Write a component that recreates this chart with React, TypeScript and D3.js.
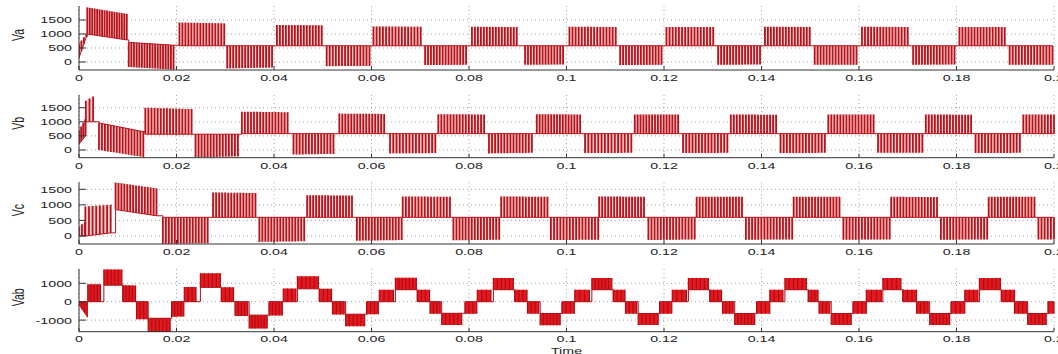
import * as d3 from 'd3';

// one switching block of the PWM trace:
// [t start, t end, base at start, base at end, tip at start, tip at end, pulse count]
type Block = [number, number, number, number, number, number, number];

const timeTicks = [0, 0.02, 0.04, 0.06, 0.08, 0.1, 0.12, 0.14, 0.16, 0.18, 0.2];
const timeTickLabels = ['0', '0.02', '0.04', '0.06', '0.08', '0.1', '0.12', '0.14', '0.16', '0.18', '0.2'];
const phaseTicks = [0, 500, 1000, 1500];
const lineTicks = [-1000, 0, 1000];

const vaBlocks: Block[] = [
    [0.0000, 0.0015, 150, 900, 650, 1000, 4],
    [0.0017, 0.0098, 1000, 790, 1950, 1720, 17],
    [0.0102, 0.0194, 700, 600, -180, -270, 18],
    [0.0206, 0.0298, 580, 580, 1410, 1380, 16],
    [0.0304, 0.0396, 580, 580, -230, -200, 16],
    [0.0406, 0.0498, 580, 580, 1320, 1310, 16],
    [0.0508, 0.0596, 580, 580, -150, -140, 15],
    [0.0604, 0.0701, 580, 580, 1270, 1260, 16],
    [0.0710, 0.0794, 580, 580, -110, -100, 15],
    [0.0806, 0.0898, 580, 580, 1260, 1250, 16],
    [0.0915, 0.0993, 580, 580, -100, -90, 14],
    [0.1006, 0.1101, 580, 580, 1260, 1250, 16],
    [0.1110, 0.1195, 580, 580, -110, -100, 15],
    [0.1205, 0.1301, 580, 580, 1250, 1250, 16],
    [0.1311, 0.1397, 580, 580, -100, -90, 15],
    [0.1407, 0.1499, 580, 580, 1260, 1250, 16],
    [0.1509, 0.1595, 580, 580, -100, -100, 15],
    [0.1606, 0.1700, 580, 580, 1260, 1250, 16],
    [0.1711, 0.1796, 580, 580, -100, -90, 15],
    [0.1806, 0.1899, 580, 580, 1250, 1250, 16],
    [0.1909, 0.1997, 580, 580, -100, -100, 15],
];

const vbBlocks: Block[] = [
    [0.0000, 0.0013, 200, 500, 700, 1100, 4],
    [0.0014, 0.0029, 1000, 1000, 1750, 1900, 3],
    [0.0041, 0.0132, 960, 650, 0, -250, 16],
    [0.0136, 0.0231, 560, 560, 1500, 1450, 16],
    [0.0239, 0.0326, 560, 560, -260, -230, 15],
    [0.0334, 0.0428, 580, 580, 1360, 1340, 16],
    [0.0440, 0.0522, 580, 580, -160, -140, 14],
    [0.0534, 0.0626, 580, 580, 1290, 1280, 16],
    [0.0638, 0.0731, 580, 580, -120, -110, 15],
    [0.0737, 0.0831, 580, 580, 1270, 1260, 16],
    [0.0841, 0.0929, 580, 580, -120, -100, 15],
    [0.0939, 0.1028, 580, 580, 1270, 1260, 16],
    [0.1038, 0.1133, 580, 580, -110, -100, 15],
    [0.1140, 0.1229, 580, 580, 1260, 1260, 16],
    [0.1239, 0.1330, 580, 580, -110, -100, 15],
    [0.1337, 0.1430, 580, 580, 1260, 1250, 16],
    [0.1439, 0.1530, 580, 580, -110, -100, 15],
    [0.1537, 0.1630, 580, 580, 1260, 1260, 16],
    [0.1639, 0.1730, 580, 580, -100, -100, 15],
    [0.1737, 0.1830, 580, 580, 1260, 1250, 16],
    [0.1839, 0.1930, 580, 580, -110, -100, 15],
    [0.1937, 0.2000, 580, 580, 1260, 1260, 11],
];

const vcBlocks: Block[] = [
    [0.0000, 0.0012, 0, 0, 300, 450, 3],
    [0.0013, 0.0065, 0, 100, 950, 1000, 8],
    [0.0075, 0.0159, 850, 650, 1720, 1530, 15],
    [0.0172, 0.0264, 600, 600, -250, -230, 16],
    [0.0275, 0.0362, 600, 600, 1400, 1380, 15],
    [0.0370, 0.0462, 600, 600, -190, -170, 16],
    [0.0468, 0.0560, 600, 600, 1310, 1300, 16],
    [0.0570, 0.0662, 600, 600, -150, -130, 16],
    [0.0664, 0.0761, 600, 600, 1270, 1260, 16],
    [0.0768, 0.0862, 600, 600, -140, -120, 16],
    [0.0866, 0.0961, 600, 600, 1270, 1260, 16],
    [0.0968, 0.1065, 600, 600, -130, -120, 16],
    [0.1067, 0.1159, 600, 600, 1270, 1260, 16],
    [0.1168, 0.1263, 600, 600, -130, -110, 16],
    [0.1267, 0.1360, 600, 600, 1260, 1260, 16],
    [0.1368, 0.1463, 600, 600, -120, -110, 16],
    [0.1466, 0.1560, 600, 600, 1260, 1260, 16],
    [0.1568, 0.1663, 600, 600, -120, -110, 16],
    [0.1666, 0.1760, 600, 600, 1260, 1250, 16],
    [0.1768, 0.1863, 600, 600, -120, -110, 16],
    [0.1866, 0.1960, 600, 600, 1260, 1260, 16],
    [0.1968, 0.2000, 600, 600, -110, -110, 6],
];

const vabBlocks: Block[] = [
    [0.0000, 0.0017, 0, 0, -200, -850, 4],
    [0.0018, 0.0044, 0, 0, 950, 950, 5],
    [0.0051, 0.0088, 900, 900, 1750, 1750, 6],
    [0.0090, 0.0116, 0, 0, 900, 880, 5],
    [0.0118, 0.0140, 0, 0, -950, -950, 4],
    [0.0142, 0.0187, -900, -900, -1650, -1650, 7],
    [0.0190, 0.0215, 0, 0, -820, -800, 5],
    [0.0216, 0.0240, 0, 0, 800, 800, 4],
    [0.0249, 0.0290, 780, 780, 1540, 1540, 6],
    [0.0292, 0.0317, 0, 0, 780, 780, 4],
    [0.0320, 0.0346, 0, 0, -780, -780, 5],
    [0.0349, 0.0386, -730, -730, -1450, -1450, 7],
    [0.0390, 0.0417, 0, 0, -750, -750, 5],
    [0.0419, 0.0445, 0, 0, 720, 720, 4],
    [0.0448, 0.0491, 700, 700, 1380, 1380, 6],
    [0.0493, 0.0518, 0, 0, 700, 700, 4],
    [0.0520, 0.0544, 0, 0, -700, -700, 4],
    [0.0547, 0.0586, -680, -680, -1330, -1330, 6],
    [0.0590, 0.0614, 0, 0, -680, -680, 4],
    [0.0616, 0.0645, 0, 0, 650, 650, 4],
    [0.0649, 0.0692, 650, 650, 1300, 1300, 7],
    [0.0694, 0.0719, 0, 0, 650, 650, 4],
    [0.0720, 0.0741, 0, 0, -650, -650, 4],
    [0.0744, 0.0785, -630, -630, -1270, -1270, 6],
    [0.0792, 0.0816, 0, 0, -650, -650, 4],
    [0.0817, 0.0845, 0, 0, 650, 650, 4],
    [0.0850, 0.0891, 650, 650, 1290, 1290, 6],
    [0.0894, 0.0919, 0, 0, 650, 650, 4],
    [0.0920, 0.0943, 0, 0, -650, -650, 4],
    [0.0946, 0.0987, -640, -640, -1280, -1280, 7],
    [0.0991, 0.1016, 0, 0, -650, -650, 4],
    [0.1017, 0.1047, 0, 0, 650, 650, 4],
    [0.1052, 0.1093, 650, 650, 1290, 1290, 7],
    [0.1096, 0.1120, 0, 0, 650, 650, 4],
    [0.1121, 0.1144, 0, 0, -650, -650, 4],
    [0.1147, 0.1188, -640, -640, -1270, -1270, 6],
    [0.1191, 0.1216, 0, 0, -650, -650, 4],
    [0.1217, 0.1246, 0, 0, 650, 650, 4],
    [0.1250, 0.1291, 650, 650, 1290, 1290, 6],
    [0.1294, 0.1318, 0, 0, 650, 650, 4],
    [0.1320, 0.1342, 0, 0, -650, -650, 4],
    [0.1345, 0.1386, -640, -640, -1270, -1270, 7],
    [0.1390, 0.1417, 0, 0, -650, -650, 4],
    [0.1417, 0.1444, 0, 0, 650, 650, 4],
    [0.1448, 0.1492, 650, 650, 1290, 1290, 6],
    [0.1496, 0.1516, 0, 0, 650, 650, 4],
    [0.1518, 0.1540, 0, 0, -650, -650, 4],
    [0.1543, 0.1584, -640, -640, -1270, -1270, 6],
    [0.1588, 0.1615, 0, 0, -650, -650, 4],
    [0.1615, 0.1646, 0, 0, 650, 650, 4],
    [0.1649, 0.1686, 650, 650, 1290, 1290, 5],
    [0.1690, 0.1718, 0, 0, 650, 650, 4],
    [0.1718, 0.1742, 0, 0, -650, -650, 4],
    [0.1745, 0.1786, -640, -640, -1270, -1270, 7],
    [0.1789, 0.1817, 0, 0, -650, -650, 4],
    [0.1817, 0.1844, 0, 0, 650, 650, 4],
    [0.1847, 0.1890, 650, 650, 1290, 1290, 6],
    [0.1892, 0.1919, 0, 0, 650, 650, 4],
    [0.1919, 0.1944, 0, 0, -650, -650, 4],
    [0.1946, 0.1984, -640, -640, -1270, -1270, 6],
    [0.1988, 0.2000, 0, 0, -650, -650, 2],
];

const W = 1058;
const H = 354;
const left = 79;
const right = 1054;
const sx = 1.5; // the picture is stretched sideways, text too
const font = 'Liberation Sans, Arial, Helvetica, sans-serif';

const panels = [
    { key: 'va', label: 'Va', blocks: vaBlocks, ticks: phaseTicks, domain: [-286, 2000], top: 6, bottom: 70, dense: false },
    { key: 'vb', label: 'Vb', blocks: vbBlocks, ticks: phaseTicks, domain: [-273, 1950], top: 95, bottom: 157.7, dense: false },
    { key: 'vc', label: 'Vc', blocks: vcBlocks, ticks: phaseTicks, domain: [-257, 1725], top: 182.3, bottom: 244, dense: false },
    { key: 'vab', label: 'Vab', blocks: vabBlocks, ticks: lineTicks, domain: [-1630, 1777], top: 269, bottom: 331.7, dense: true },
];

const x = d3.scaleLinear().domain([0, 0.2]).range([left, right]);

function Panel({ p }: { p: typeof panels[number] }) {
    const y = d3.scaleLinear().domain(p.domain).range([p.bottom, p.top]);
    const lineColor = p.dense ? '#b00c14' : '#b8121b';
    const bandColor = p.dense ? '#e3191f' : '#f5d2d2';

    // trace through the base of each block
    const pts: [number, number][] = [];
    p.blocks.forEach((b, i) => {
        if (i > 0) {
            const prev = p.blocks[i - 1];
            pts.push([b[0], prev[3]]);
        }
        pts.push([b[0], b[2]]);
        pts.push([b[1], b[3]]);
    });
    const trace = d3.line<[number, number]>().x(d => x(d[0])).y(d => y(d[1]))(pts) as string;

    const pulses: { t: number; b: number; tip: number }[] = [];
    p.blocks.forEach(b => {
        const n = b[6];
        for (let i = 0; i < n; i++) {
            const f = n > 1 ? i / (n - 1) : 0;
            pulses.push({
                t: b[0] + f * (b[1] - b[0]),
                b: b[2] + f * (b[3] - b[2]),
                tip: b[4] + f * (b[5] - b[4]),
            });
        }
    });

    const clipId = `clip-${p.key}`;
    return (
        <g>
            <defs>
                <clipPath id={clipId}>
                    <rect x={left} y={p.top - 1} width={right - left + 2} height={p.bottom - p.top + 2} />
                </clipPath>
            </defs>
            {/* grid */}
            {timeTicks.map(t => (
                <line key={'gx' + t} x1={x(t)} x2={x(t)} y1={p.top} y2={p.bottom}
                    stroke="#8a8a8a" strokeWidth={0.8} strokeDasharray="1,3" />
            ))}
            {p.ticks.map(v => (
                <line key={'gy' + v} x1={left} x2={right} y1={y(v)} y2={y(v)}
                    stroke="#8a8a8a" strokeWidth={0.8} strokeDasharray="1,3" />
            ))}
            <g clipPath={`url(#${clipId})`}>
                {p.blocks.map((b, i) => (
                    <polygon key={'band' + i} fill={bandColor}
                        points={[
                            [x(b[0]), y(b[2])], [x(b[1]), y(b[3])],
                            [x(b[1]), y(b[5])], [x(b[0]), y(b[4])],
                        ].map(q => q.join(',')).join(' ')} />
                ))}
                <path d={trace} fill="none" stroke={lineColor} strokeWidth={1} />
                {pulses.map((q, i) => (
                    <line key={'p' + i} x1={x(q.t)} x2={x(q.t)} y1={y(q.b)} y2={y(q.tip)}
                        stroke={lineColor} strokeWidth={p.dense ? 1.2 : 1.8} />
                ))}
            </g>
            {/* axes */}
            <line x1={left} x2={left} y1={p.top} y2={p.bottom} stroke="#333" strokeWidth={1} />
            <line x1={left} x2={right} y1={p.bottom} y2={p.bottom} stroke="#333" strokeWidth={1} />
            {timeTicks.map(t => (
                <line key={'tx' + t} x1={x(t)} x2={x(t)} y1={p.bottom} y2={p.bottom - 4} stroke="#333" strokeWidth={1} />
            ))}
            {p.ticks.map(v => (
                <line key={'ty' + v} x1={left} x2={left + 7} y1={y(v)} y2={y(v)} stroke="#333" strokeWidth={1} />
            ))}
            {timeTicks.map((t, i) => (
                <text key={'lx' + t} transform={`translate(${x(t)},${p.bottom + (p.dense ? 10.5 : 11)}) scale(${sx},1)`}
                    textAnchor="middle" fontSize={9.5} fontFamily={font} fill="#222">
                    {timeTickLabels[i]}
                </text>
            ))}
            {p.ticks.map(v => (
                <text key={'ly' + v} transform={`translate(${left - 7},${y(v) + 3.4}) scale(${sx},1)`}
                    textAnchor="end" fontSize={9.5} fontFamily={font} fill="#222">
                    {v}
                </text>
            ))}
            <text transform={`translate(${24},${(p.top + p.bottom) / 2 - 3}) scale(${sx},1) rotate(-90)`}
                textAnchor="middle" fontSize={10.5} fontFamily={font} fill="#222">
                {p.label}
            </text>
        </g>
    );
}

export default function App() {
    return (
        <svg width={W} height={H} style={{ position: 'absolute', left: 0, top: 0, background: '#fff' }}>
            {panels.map(p => <Panel key={p.key} p={p} />)}
            <text transform={`translate(${(left + right) / 2},${353.5}) scale(${sx},1)`}
                textAnchor="middle" fontSize={9.5} fontFamily={font} fill="#222">
                Time
            </text>
        </svg>
    );
}
